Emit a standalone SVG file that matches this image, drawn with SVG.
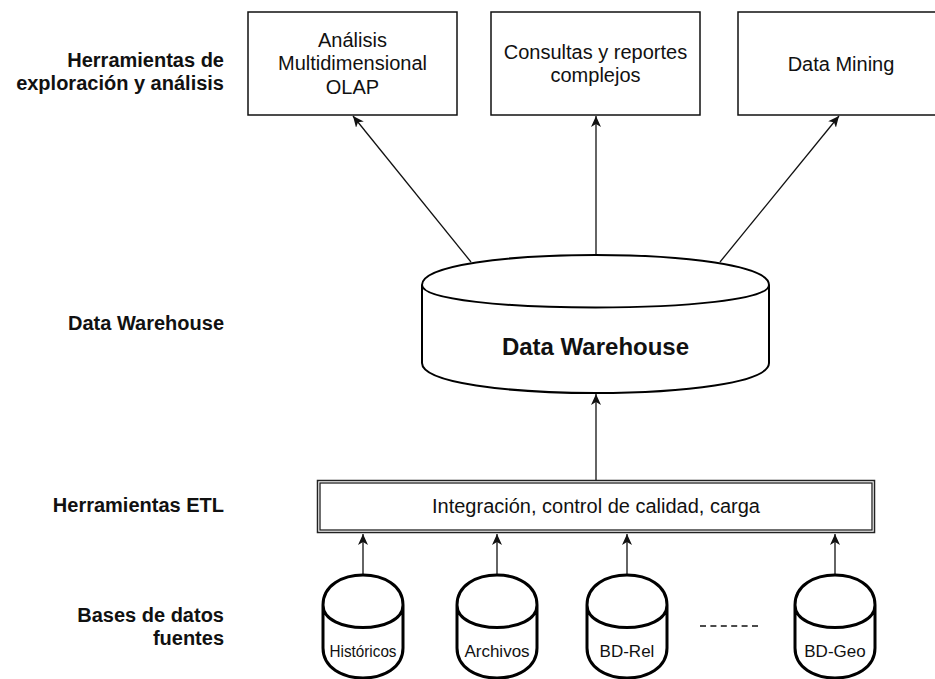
<svg xmlns="http://www.w3.org/2000/svg" xmlns:xlink="http://www.w3.org/1999/xlink" width="935" height="679" viewBox="0 0 935 679">
  <style>
    .txt { font-family: "Liberation Sans", Arial, Helvetica, sans-serif; fill: #111; }
    .lbl { font-size: 20px; font-weight: bold; text-anchor: end; }
    .box { fill: #fff; stroke: #111; stroke-width: 1.5; }
    .boxtxt { font-size: 20px; text-anchor: middle; }
    .cyl { fill: #fff; stroke: #000; stroke-width: 3; }
    .cyltxt { font-size: 17px; text-anchor: middle; }
    .edge { fill: none; stroke: #111; stroke-width: 1.3; marker-end: url(#arrow); }
  </style>
  <defs>
    <marker id="arrow" markerUnits="userSpaceOnUse" viewBox="0 0 11 10" refX="11" refY="5" markerWidth="11" markerHeight="10" orient="auto">
      <path d="M0,0 L11,5 L0,10 L3,5 Z" fill="#111"/>
    </marker>
    <!-- small source-database cylinder, 80 x 103 -->
    <path id="cyl-small" d="M0,30 C0,-10 80,-10 80,30 L80,73 C80,113 0,113 0,73 Z M0,30 C0,60 80,60 80,30"/>
  </defs>

  <rect width="935" height="679" fill="#fff"/>

  <!-- row labels -->
  <g id="row-labels" class="txt lbl">
    <text x="224" y="67">Herramientas de</text>
    <text x="224" y="90">exploración y análisis</text>
    <text x="224" y="330">Data Warehouse</text>
    <text x="224" y="512">Herramientas ETL</text>
    <text x="224" y="622">Bases de datos</text>
    <text x="224" y="645">fuentes</text>
  </g>

  <!-- connectors -->
  <g id="connectors">
    <line class="edge" x1="471" y1="262" x2="353" y2="116"/>
    <line class="edge" x1="596" y1="255" x2="596" y2="116"/>
    <line class="edge" x1="720" y1="262" x2="839" y2="116"/>
    <line class="edge" x1="596" y1="480" x2="596" y2="394"/>
    <line class="edge" x1="363" y1="575" x2="363" y2="534"/>
    <line class="edge" x1="497" y1="575" x2="497" y2="534"/>
    <line class="edge" x1="627" y1="575" x2="627" y2="534"/>
    <line class="edge" x1="835" y1="575" x2="835" y2="534"/>
    <line x1="700" y1="626" x2="758" y2="626" stroke="#111" stroke-width="1.3" stroke-dasharray="6 4.4"/>
  </g>

  <!-- analysis tools -->
  <g id="olap">
    <rect class="box" x="248" y="12" width="209" height="103"/>
    <text class="txt boxtxt" x="352.5" y="47">Análisis</text>
    <text class="txt boxtxt" x="352.5" y="70">Multidimensional</text>
    <text class="txt boxtxt" x="352.5" y="94">OLAP</text>
  </g>
  <g id="consultas">
    <rect class="box" x="491" y="12" width="209" height="103"/>
    <text class="txt boxtxt" x="595.5" y="59">Consultas y reportes</text>
    <text class="txt boxtxt" x="595.5" y="82">complejos</text>
  </g>
  <g id="data-mining">
    <rect class="box" x="738" y="12" width="209" height="103"/>
    <text class="txt boxtxt" x="841" y="71">Data Mining</text>
  </g>

  <!-- central warehouse -->
  <g id="data-warehouse">
    <path d="M422,285 C422,245 769,245 769,285 L769,363 C769,403 422,403 422,363 Z" fill="#fff" stroke="#000" stroke-width="2"/>
    <path d="M422,285 C422,315 769,315 769,285" fill="none" stroke="#000" stroke-width="2"/>
    <text class="txt" x="595.5" y="355" font-size="24" font-weight="bold" text-anchor="middle">Data Warehouse</text>
  </g>

  <!-- ETL stage: double-line border -->
  <g id="etl">
    <rect x="317.5" y="480.5" width="557" height="52" fill="#fff" stroke="#222" stroke-width="1.5"/>
    <rect x="320" y="483" width="552" height="47" fill="none" stroke="#222" stroke-width="1.3"/>
    <text class="txt boxtxt" x="596" y="513">Integración, control de calidad, carga</text>
  </g>

  <!-- source databases -->
  <g id="historicos">
    <use xlink:href="#cyl-small" class="cyl" transform="translate(323,575)"/>
    <text class="txt cyltxt" x="363" y="657" textLength="67" lengthAdjust="spacingAndGlyphs">Históricos</text>
  </g>
  <g id="archivos">
    <use xlink:href="#cyl-small" class="cyl" transform="translate(457,575)"/>
    <text class="txt cyltxt" x="497" y="657">Archivos</text>
  </g>
  <g id="bd-rel">
    <use xlink:href="#cyl-small" class="cyl" transform="translate(587,575)"/>
    <text class="txt cyltxt" x="627" y="657">BD-Rel</text>
  </g>
  <g id="bd-geo">
    <use xlink:href="#cyl-small" class="cyl" transform="translate(795,575)"/>
    <text class="txt cyltxt" x="835" y="657">BD-Geo</text>
  </g>
</svg>
